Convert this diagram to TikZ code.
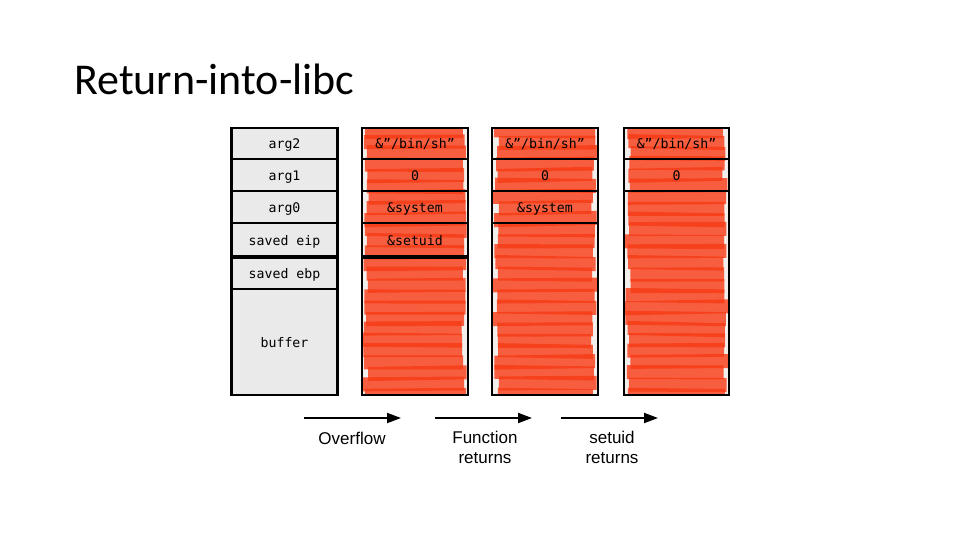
\documentclass[tikz,border=0pt]{standalone}
\usepackage{fontspec}
\setmainfont{Liberation Sans}
\newfontfamily\titlefont{Carlito}
\newfontfamily\cellfont{DejaVu Sans Mono}
\usetikzlibrary{arrows.meta}
\definecolor{cellgray}{HTML}{EAEAEA}
\definecolor{marker}{HTML}{F73A14}
\definecolor{stripebg}{HTML}{F2EEEC}
\newcommand\drawstripes[2]{%
  \begin{scope}
    \clip (#1,128) rectangle (#2,395);
    \fill[stripebg] (#1,128) rectangle (#2,395);
    \foreach \i in {0,...,24}{
      \pgfmathsetmacro\ya{124+\i*11+rand*1.3}
      \pgfmathsetmacro\yb{124+\i*11+rand*1.3}
      \pgfmathsetmacro\la{#1+1+rnd*6}
      \pgfmathsetmacro\ra{#2-1-rnd*6}
      \fill[marker,opacity=0.8] (\la,\ya) -- (\ra,\yb) -- (\ra,\yb+14) -- (\la,\ya+14) -- cycle;
    }
  \end{scope}}
\begin{document}
\begin{tikzpicture}[x=1pt,y=-1pt,
  cell/.style={draw=black,line width=2.4pt,minimum width=106pt,inner sep=0pt,
    text height=11.5pt,text depth=0.5pt,
    font=\cellfont\fontsize{13.2}{15}\selectfont},
  grayc/.style={cell,fill=cellgray},
  redc/.style={cell},
  thick line/.style={line width=3.6pt},
  flow/.style={line width=2pt,-{Triangle[length=14pt,width=10pt]}},
  caption/.style={font=\fontsize{17}{20}\selectfont,align=center}]
\pgfmathsetseed{11}
\useasboundingbox[fill=white] (0,0) rectangle (960,540);
% title
\node[anchor=base west,inner sep=0pt,font=\titlefont\fontsize{44}{50}\selectfont] (title) at (74,95) {Return-into-libc};
% column 1: stack layout
\node[grayc,minimum height=31pt] (a2) at (284.5,143.5) {arg2};
\node[grayc,minimum height=32pt] (a1) at (284.5,175) {arg1};
\node[grayc,minimum height=32pt] (a0) at (284.5,207) {arg0};
\node[grayc,minimum height=33pt] (eip) at (284.5,239.5) {saved eip};
\node[grayc,minimum height=33pt] (ebp) at (284.5,272.5) {saved ebp};
\node[grayc,minimum height=106pt] (buf) at (284.5,342) {buffer};
\draw[thick line] (eip.south west) -- (eip.south east);
% column 2: overflow
\drawstripes{362}{468}
\node[redc,minimum height=31pt] (b2) at (415,143.5) {\&”/bin/sh”};
\node[redc,minimum height=32pt] (b1) at (415,175) {0};
\node[redc,minimum height=32pt] (b0) at (415,207) {\&system};
\node[redc,minimum height=33pt] (beip) at (415,239.5) {\&setuid};
\node[redc,minimum height=139pt] (brest) at (415,325.5) {};
\draw[thick line] (beip.south west) -- (beip.south east);
% column 3: function returns
\drawstripes{492}{598}
\node[redc,minimum height=31pt] (c2) at (545,143.5) {\&”/bin/sh”};
\node[redc,minimum height=32pt] (c1) at (545,175) {0};
\node[redc,minimum height=32pt] (c0) at (545,207) {\&system};
\node[redc,minimum height=172pt] (crest) at (545,309) {};
% column 4: setuid returns
\drawstripes{624}{729}
\node[redc,minimum width=105pt,minimum height=31pt] (d2) at (676.5,143.5) {\&”/bin/sh”};
\node[redc,minimum width=105pt,minimum height=32pt] (d1) at (676.5,175) {0};
\node[redc,minimum width=105pt,minimum height=204pt] (drest) at (676.5,293) {};
% arrows
\coordinate (o1) at (304,418); \coordinate (o2) at (401,418);
\coordinate (f1) at (435,418); \coordinate (f2) at (532,418);
\coordinate (s1) at (561,418); \coordinate (s2) at (658,418);
\draw[flow] (o1) -- (o2);
\draw[flow] (f1) -- (f2);
\draw[flow] (s1) -- (s2);
\node[caption] (lo) at (352,438) {Overflow};
\node[caption] (lf) at (485,447) {Function\\returns};
\node[caption] (ls) at (612,447) {setuid\\returns};
\end{tikzpicture}
\end{document}
